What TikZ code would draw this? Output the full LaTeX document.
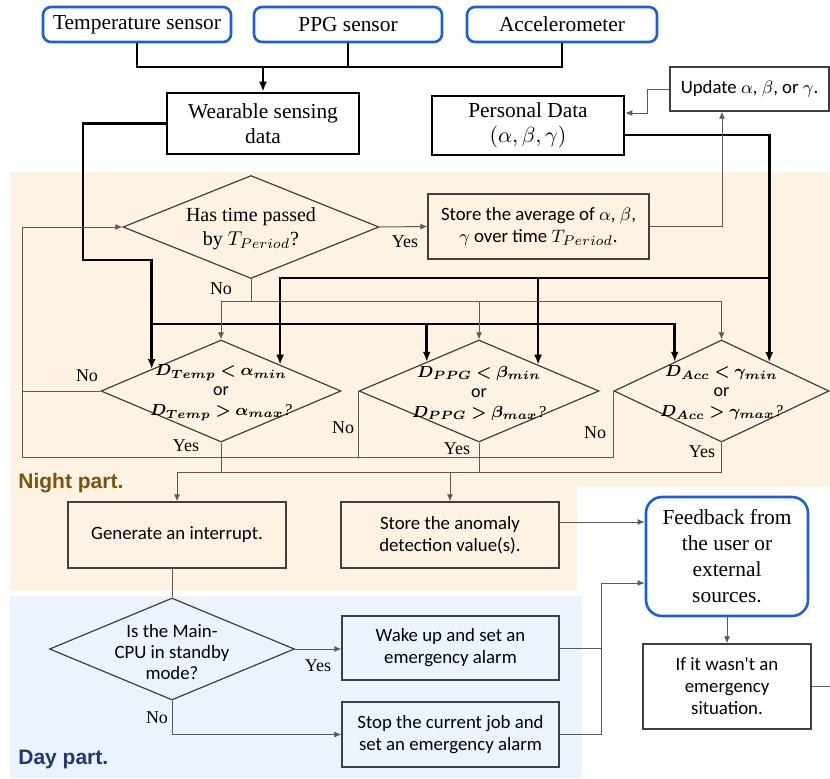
\documentclass[tikz,border=0pt]{standalone}
\usepackage{fontspec}
\setmainfont{Liberation Serif}
\newfontfamily\calib{Carlito}
\newfontfamily\partfont{Liberation Sans}
\usepackage{bm}
\usetikzlibrary{shapes.geometric,arrows.meta,calc}

\definecolor{nightbg}{HTML}{FEF3E2}
\definecolor{daybg}{HTML}{EBF3FD}
\definecolor{sensorblue}{HTML}{1C5FD8}
\definecolor{nightlbl}{HTML}{7A5412}
\definecolor{daylbl}{HTML}{1F3A6E}
\definecolor{boxgray}{HTML}{404040}
\definecolor{wiregray}{HTML}{5A5A5A}

\tikzset{
  sensor/.style={draw=sensorblue, line width=1.3pt, rounded corners=4pt, inner sep=0pt,
    minimum height=17.5pt, font=\fontsize{10.7}{12.5}\selectfont},
  boldbox/.style={draw, line width=1.3pt, inner sep=0pt, align=center,
    font=\fontsize{10.7}{12.5}\selectfont},
  plainbox/.style={draw=boxgray, line width=0.6pt, inner sep=0pt, align=center,
    font=\calib\fontsize{9.4}{11}\selectfont},
  dec/.style={diamond, draw=boxgray, line width=0.6pt, inner sep=0pt},
  dectext/.style={align=center, inner sep=0pt},
  mathtext/.style={dectext, font=\fontsize{8.3}{10}\selectfont},
  bus/.style={line width=1.3pt},
  busarrow/.style={line width=1.3pt, -{Latex[length=5pt,width=4pt]}},
  wire/.style={line width=0.5pt, draw=wiregray},
  wirearrow/.style={wire, -{Latex[length=3.5pt,width=3pt]}},
  lbl/.style={font=\fontsize{9}{10}\selectfont, inner sep=0pt},
  part/.style={font=\partfont\bfseries\fontsize{10.5}{12}\selectfont, anchor=west, inner sep=0pt}
}

\begin{document}
\begin{tikzpicture}[x=0.5pt,y=-0.5pt]
\useasboundingbox (0,0) rectangle (830,778);

% background regions
\fill[nightbg] (10,172) -- (829,172) -- (829,487) -- (577,487) -- (577,590) -- (10,590) -- cycle;
\fill[daybg] (10,596) rectangle (582,778);
\node[part, text=nightlbl] (night) at (18,483) {Night part.};
\node[part, text=daylbl] (day) at (18,759) {Day part.};

% sensors
\node[sensor, minimum width=94pt] (ts) at (137,24.5) {Temperature sensor};
\node[sensor, minimum width=94pt] (ppg) at (348,24.5) {PPG sensor};
\node[sensor, minimum width=95pt] (acc) at (562,24.5) {Accelerometer};

% data boxes
\node[boldbox, minimum width=96pt, minimum height=30.5pt] (wear) at (263,123.5) {Wearable sensing\\data};
\node[boldbox, minimum width=96pt, minimum height=29.5pt] (pers) at (528,125.5) {Personal Data\\$(\alpha,\beta,\gamma)$};
\node[plainbox, minimum width=79.5pt, minimum height=22pt] (upd) at (749.5,89) {Update $\alpha$, $\beta$, or $\gamma$.};

% period check
\node[dec, minimum width=128pt, minimum height=51.5pt] (tm) at (251,227) {};
\node[dectext, font=\fontsize{10}{12}\selectfont] (tmt) at (251,229) {Has time passed\\by $T_{Period}$?};
\node[plainbox, minimum width=110.5pt, minimum height=32.5pt] (avg) at (538.5,226.5)
  {Store the average of $\alpha$, $\beta$,\\$\gamma$ over time $T_{Period}$.};

% threshold checks
\node[dec, minimum width=120pt, minimum height=51pt] (td) at (221,391) {};
\node[mathtext] (tdt) at (221,393) {$\bm{D_{Temp} < \alpha_{min}}$\\{\calib\fontsize{9}{10}\selectfont or}\\$\bm{D_{Temp} > \alpha_{max}}$\textit{?}};
\node[dec, minimum width=120pt, minimum height=51pt] (pd) at (479,391) {};
\node[mathtext] (pdt) at (479,393) {$\bm{D_{PPG} < \beta_{min}}$\\{\calib\fontsize{9}{10}\selectfont or}\\$\bm{D_{PPG} > \beta_{max}}$\textit{?}};
\node[dec, minimum width=107.5pt, minimum height=51pt] (ad) at (721.5,391) {};
\node[mathtext] (adt) at (721.5,393) {$\bm{D_{Acc} < \gamma_{min}}$\\{\calib\fontsize{9}{10}\selectfont or}\\$\bm{D_{Acc} > \gamma_{max}}$\textit{?}};

% night actions
\node[plainbox, minimum width=109pt, minimum height=33pt] (gen) at (177,535) {Generate an interrupt.};
\node[plainbox, minimum width=109pt, minimum height=33pt] (ano) at (450,535) {Store the anomaly\\detection value(s).};

% feedback
\node[draw=sensorblue, line width=1.3pt, rounded corners=8pt, inner sep=0pt, align=center,
  minimum width=81pt, minimum height=59.5pt, font=\fontsize{10.7}{13}\selectfont]
  (fb) at (727,556.5) {Feedback from\\the user or\\external\\sources.};
\node[plainbox, minimum width=84pt, minimum height=42.5pt] (ifb) at (727,686.5)
  {If it wasn't an\\emergency\\situation.};

% day part
\node[dec, minimum width=122.5pt, minimum height=51pt] (cpu) at (172,649) {};
\node[dectext, font=\calib\fontsize{9.4}{10.5}\selectfont] (cput) at (172,652) {Is the Main-\\CPU in standby\\mode?};
\node[plainbox, minimum width=108.5pt, minimum height=32pt] (wake) at (450.5,648) {Wake up and set an\\emergency alarm};
\node[plainbox, minimum width=108.5pt, minimum height=32.5pt] (stop) at (450.5,734.5) {Stop the current job and\\set an emergency alarm};

% ---- sensor bus
\coordinate (sb) at (263,67);
\draw[bus] (ts.south) |- (sb) -| (acc.south);
\draw[bus] (ppg.south) -- (ppg.south |- sb);
\draw[busarrow] (sb) -- (wear.north);

% ---- wearable data to the three checks
\coordinate (tdin1) at ($(td.west)!0.425!(td.north)$);
\coordinate (pdin1) at ($(pd.west)!0.567!(pd.north)$);
\coordinate (adin1) at ($(ad.west)!0.567!(ad.north)$);
\coordinate (wk) at (83,260);
\coordinate (wb) at (152,324);
\draw[busarrow] (wear.west) -| (wk) -| (tdin1);
\draw[busarrow] (wb) -| (adin1);
\draw[busarrow] (pdin1 |- wb) -- (pdin1);

% ---- personal data to the three checks
\coordinate (tdin2) at ($(td.north)!0.49!(td.east)$);
\coordinate (pdin2) at ($(pd.north)!0.49!(pd.east)$);
\coordinate (adin2) at ($(ad.north)!0.442!(ad.east)$);
\coordinate (pr) at (700,135);
\coordinate (pb) at (769,278);
\draw[busarrow] (pr -| pers.east) -| (adin2);
\draw[busarrow] (pb) -| (tdin2);
\draw[busarrow] (pdin2 |- pb) -- (pdin2);

% ---- period loop
\draw[wirearrow] (tm.east) -- (avg.west);
\node[lbl] (tmyes) at (405,242) {Yes};
\coordinate (uc) at (722,0);
\draw[wirearrow] (avg.east) -| (upd.south -| uc);
\coordinate (uk) at (647,113);
\draw[wirearrow] (upd.west) -| (uk) -- (uk -| pers.east);
\coordinate (nb) at (251,301);
\draw[wire] (tm.south) -- (nb);
\draw[wirearrow] (nb) -| (td.north);
\draw[wirearrow] (nb) -| (ad.north);
\draw[wirearrow] (pd.north |- nb) -- (pd.north);
\node[lbl] (tmno) at (221,289) {No};

% ---- "No" returns to the period check
\coordinate (lb) at (22,457);
\draw[wirearrow] (ad.west) |- (lb) |- (tm.west);
\draw[wire] (td.west) -- (td.west -| lb);
\draw[wire] (pd.west) -- (pd.west |- lb);
\node[lbl] (tdno) at (87,376) {No};
\node[lbl] (pdno) at (343,428) {No};
\node[lbl] (adno) at (595,433) {No};

% ---- "Yes" to the night actions
\coordinate (yb) at (177,472);
\draw[wire] (td.south) -- (td.south |- yb);
\draw[wire] (pd.south) -- (pd.south |- yb);
\draw[wire] (ad.south) |- (yb);
\draw[wirearrow] (yb) -- (gen.north);
\draw[wirearrow] (yb -| ano.north) -- (ano.north);
\node[lbl] (tdyes) at (186,446) {Yes};
\node[lbl] (pdyes) at (457,449) {Yes};
\node[lbl] (adyes) at (702,452) {Yes};

% ---- feedback paths
\coordinate (fa) at (600,522);
\draw[wirearrow] (fa -| ano.east) -- (fa -| fb.west);
\coordinate (fv) at (601,583);
\draw[wire] (wake.east) -| (fv);
\draw[wire] (stop.east) -| (fv);
\draw[wirearrow] (fv) -- (fv -| fb.west);
\draw[wirearrow] (fb.south) -- (ifb.north);
\coordinate (edge) at (830,686.5);
\draw[wire] (ifb.east) -- (ifb.east -| edge);

% ---- day part
\draw[wire] (gen.south -| cpu.north) -- (cpu.north);
\draw[wirearrow] (cpu.east) -- (wake.west |- cpu.east);
\node[lbl] (cpuyes) at (318,666) {Yes};
\draw[wirearrow] (cpu.south) |- (stop.west);
\node[lbl] (cpuno) at (157,718) {No};
\end{tikzpicture}
\end{document}
